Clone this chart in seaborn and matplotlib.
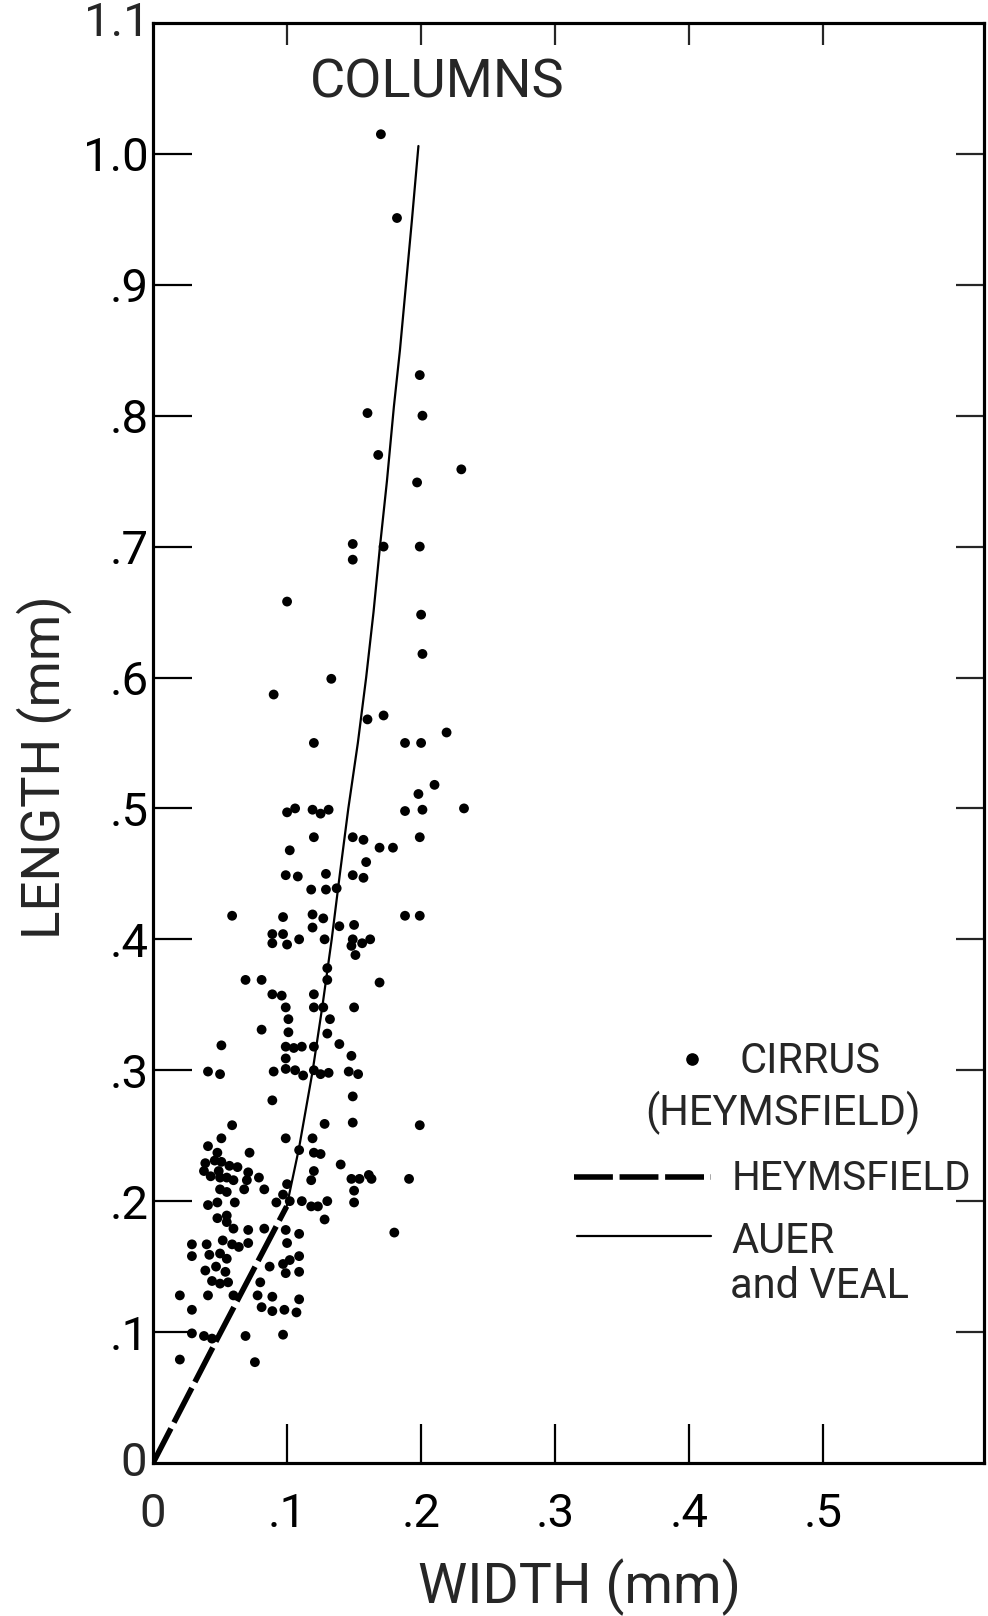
import numpy as np
import pandas as pd
import matplotlib
matplotlib.use('Agg')
import matplotlib.pyplot as plt
import seaborn as sns

sns.set_style('ticks')
plt.rcParams['font.family'] = ['Roboto', 'DejaVu Sans']
plt.rcParams['font.weight'] = 'normal'

cirrus_width = [
    0.170, 0.182, 0.199,
    0.160, 0.201, 0.168, 0.230, 0.197, 0.149, 0.172, 0.199, 0.149, 0.100, 0.200, 0.201, 0.133, 0.090,
    0.160, 0.172, 0.120, 0.188, 0.200, 0.219, 0.210, 0.198, 0.100, 0.106, 0.119, 0.125, 0.131, 0.188,
    0.201, 0.232, 0.120, 0.149, 0.157, 0.199, 0.102, 0.169, 0.179, 0.159, 0.099, 0.108, 0.129, 0.149,
    0.157, 0.118, 0.129, 0.137, 0.059, 0.097, 0.119, 0.127, 0.188, 0.199, 0.119, 0.139, 0.150, 0.089,
    0.097, 0.089, 0.100, 0.109, 0.128, 0.149, 0.148, 0.156, 0.162, 0.151,
    0.130, 0.130, 0.069, 0.081, 0.169, 0.089, 0.096, 0.120, 0.099, 0.120, 0.127, 0.150, 0.101, 0.132,
    0.081, 0.101, 0.130, 0.051, 0.099, 0.105, 0.111, 0.120, 0.139, 0.148, 0.099, 0.041, 0.050, 0.090,
    0.099, 0.106, 0.112, 0.120, 0.125, 0.131, 0.146, 0.153, 0.089, 0.149, 0.059, 0.128, 0.149, 0.199,
    0.051, 0.099, 0.119, 0.041,
    0.048, 0.072, 0.109, 0.039, 0.046, 0.051, 0.057, 0.063, 0.038, 0.043, 0.049, 0.050, 0.055, 0.060,
    0.071, 0.070, 0.079, 0.083, 0.050, 0.055, 0.068, 0.041, 0.048, 0.061, 0.092, 0.100, 0.097, 0.102,
    0.048, 0.055, 0.055, 0.060, 0.071, 0.083, 0.099, 0.109, 0.029, 0.040, 0.052, 0.059, 0.064, 0.071,
    0.100, 0.029, 0.042, 0.050, 0.055, 0.109, 0.039, 0.047, 0.054, 0.044, 0.050, 0.056, 0.087, 0.097,
    0.102, 0.099, 0.109, 0.080, 0.020, 0.041, 0.060, 0.078, 0.089, 0.109, 0.029, 0.081, 0.089, 0.098,
    0.107, 0.029, 0.038, 0.044, 0.069, 0.097, 0.020, 0.076,
    0.120, 0.125, 0.140, 0.120, 0.118, 0.148, 0.154, 0.161, 0.163, 0.191, 0.150, 0.111, 0.118, 0.123,
    0.130, 0.150, 0.128, 0.180,
]
cirrus_length = [
    1.015, 0.951, 0.831,
    0.802, 0.800, 0.770, 0.759, 0.749, 0.702, 0.700, 0.700, 0.690, 0.658, 0.648, 0.618, 0.599, 0.587,
    0.568, 0.571, 0.550, 0.550, 0.550, 0.558, 0.518, 0.511, 0.497, 0.500, 0.499, 0.496, 0.499, 0.498,
    0.499, 0.500, 0.478, 0.478, 0.476, 0.478, 0.468, 0.470, 0.470, 0.459, 0.449, 0.448, 0.450, 0.449,
    0.447, 0.438, 0.438, 0.439, 0.418, 0.417, 0.419, 0.416, 0.418, 0.418, 0.409, 0.410, 0.411, 0.404,
    0.404, 0.397, 0.396, 0.400, 0.400, 0.400, 0.395, 0.397, 0.400, 0.388,
    0.378, 0.369, 0.369, 0.369, 0.367, 0.358, 0.357, 0.358, 0.348, 0.348, 0.348, 0.348, 0.339, 0.339,
    0.331, 0.329, 0.328, 0.319, 0.318, 0.317, 0.318, 0.318, 0.320, 0.311, 0.309, 0.299, 0.297, 0.299,
    0.301, 0.300, 0.296, 0.300, 0.297, 0.298, 0.299, 0.297, 0.277, 0.280, 0.258, 0.259, 0.260, 0.258,
    0.248, 0.248, 0.248, 0.242,
    0.237, 0.237, 0.239, 0.229, 0.231, 0.230, 0.227, 0.226, 0.223, 0.219, 0.223, 0.218, 0.218, 0.216,
    0.222, 0.216, 0.218, 0.209, 0.209, 0.207, 0.209, 0.197, 0.199, 0.199, 0.199, 0.213, 0.205, 0.200,
    0.187, 0.189, 0.184, 0.179, 0.178, 0.179, 0.178, 0.175, 0.167, 0.167, 0.170, 0.167, 0.165, 0.168,
    0.168, 0.158, 0.159, 0.160, 0.156, 0.158, 0.147, 0.150, 0.146, 0.139, 0.137, 0.138, 0.150, 0.152,
    0.155, 0.145, 0.146, 0.138, 0.128, 0.128, 0.128, 0.128, 0.127, 0.125, 0.117, 0.119, 0.116, 0.117,
    0.115, 0.099, 0.097, 0.095, 0.097, 0.098, 0.079, 0.077,
    0.237, 0.236, 0.228, 0.223, 0.216, 0.217, 0.217, 0.220, 0.217, 0.217, 0.208, 0.200, 0.196, 0.196,
    0.200, 0.199, 0.186, 0.176,
]

# Heymsfield relation (dashed) and Auer and Veal relation (solid)
heyms_width = [0.0, 0.0475, 0.0997]
heyms_length = [0.0, 0.094, 0.196]
auer_width = [0.0997, 0.1089, 0.119, 0.1265, 0.1333, 0.1394, 0.1457, 0.1528, 0.1590,
              0.1645, 0.1693, 0.1745, 0.1797, 0.1842, 0.1887, 0.1932, 0.198]
auer_length = [0.196, 0.2405, 0.299, 0.350, 0.400, 0.450, 0.500, 0.550, 0.600,
               0.650, 0.700, 0.750, 0.807, 0.850, 0.900, 0.950, 1.006]

xticks = [0.0, 0.1, 0.2, 0.3, 0.4, 0.5]
xticklabels = ['0', '.1', '.2', '.3', '.4', '.5']
yticks = [0.0, 0.1, 0.2, 0.3, 0.4, 0.5, 0.6, 0.7, 0.8, 0.9, 1.0, 1.1]
yticklabels = ['0', '.1', '.2', '.3', '.4', '.5', '.6', '.7', '.8', '.9', '1.0', '1.1']

cirrus = pd.DataFrame({'width': cirrus_width, 'length': cirrus_length})
heyms = pd.DataFrame({'width': heyms_width, 'length': heyms_length})
auer = pd.DataFrame({'width': auer_width, 'length': auer_length})

fig = plt.figure(figsize=(9.88, 16.16), dpi=100)
ax = fig.add_axes([0.1549, 0.0947, 0.8411, 0.8911])

sns.lineplot(data=auer, x='width', y='length', ax=ax, color='black', lw=1.6,
             estimator=None, sort=False)
sns.lineplot(data=heyms, x='width', y='length', ax=ax, color='black', lw=4,
             linestyle=(0, (7, 1.2)), estimator=None, sort=False)
sns.scatterplot(data=cirrus, x='width', y='length', ax=ax, color='black', s=50,
                edgecolor='none', linewidth=0)

ax.set_xlim(0, 0.62)
ax.set_ylim(0, 1.1)
ax.set_xticks(xticks[1:])
ax.set_xticklabels(xticklabels[1:])
ax.set_yticks(yticks[1:-1])
ax.set_yticklabels(yticklabels[1:-1])
ax.tick_params(direction='in', length=28, width=1.6, labelsize=34, colors='black')
ax.tick_params(axis='x', pad=21)
ax.tick_params(axis='y', pad=3)
# corner labels without a tick mark
ax.text(-0.008, 0.0, '0', transform=ax.transAxes, ha='right', va='center', fontsize=34)
ax.text(0.0, -0.02, '0', transform=ax.transAxes, ha='center', va='top', fontsize=34)
ax.text(-0.004, 1.0, '1.1', transform=ax.transAxes, ha='right', va='center', fontsize=34)

# opposite side ticks
axr = ax.twinx()
axr.set_ylim(0, 1.1)
axr.set_yticks(yticks[1:-1])
axr.tick_params(direction='in', length=20, width=1.6, labelright=False)
axt = ax.twiny()
axt.set_xlim(0, 0.62)
axt.set_xticks(xticks[1:])
axt.tick_params(direction='in', length=16, width=1.6, labeltop=False)
for a in (ax, axr, axt):
    for sp in a.spines.values():
        sp.set_linewidth(2.2)
        sp.set_color('black')
    a.set_xlabel('')
    a.set_ylabel('')

ax.set_xlabel('WIDTH (mm)', fontsize=40)
ax.xaxis.set_label_coords(0.5126, -0.066)
ax.set_ylabel('LENGTH (mm)', fontsize=38)
ax.yaxis.set_label_coords(-0.097, 0.483)

ax.text(0.342, 0.958, 'COLUMNS', transform=ax.transAxes, ha='center', va='center', fontsize=39)

# legend block
ax.scatter([0.649], [0.2806], transform=ax.transAxes, s=65, color='black', clip_on=False)
ax.text(0.706, 0.279, 'CIRRUS', transform=ax.transAxes, ha='left', va='center', fontsize=30)
ax.text(0.592, 0.2433, '(HEYMSFIELD)', transform=ax.transAxes, ha='left', va='center', fontsize=30)
ax.plot([0.5065, 0.671], [0.1989, 0.1989], transform=ax.transAxes, color='black', lw=4,
        linestyle=(0, (7, 1.2)))
ax.text(0.696, 0.1975, 'HEYMSFIELD', transform=ax.transAxes, ha='left', va='center', fontsize=29)
ax.plot([0.510, 0.671], [0.1574, 0.1574], transform=ax.transAxes, color='black', lw=1.6)
ax.text(0.696, 0.1537, 'AUER', transform=ax.transAxes, ha='left', va='center', fontsize=30)
ax.text(0.6937, 0.1224, 'and VEAL', transform=ax.transAxes, ha='left', va='center', fontsize=30)

fig.savefig('out.png', dpi=100)
